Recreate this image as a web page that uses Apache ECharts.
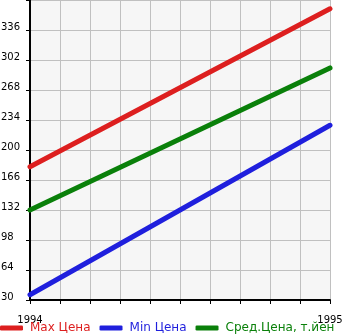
<!DOCTYPE html>
<html><head><meta charset="utf-8">
<script src="https://cdn.jsdelivr.net/npm/echarts@6/dist/echarts.min.js"></script>
<style>html,body{margin:0;padding:0;background:#fff}#c{width:345px;height:335px}</style>
</head><body><div id="c"></div>
<script>
const years = [1994, 1995];
const maxPrice = [181, 360];
const minPrice = [36, 228];
const avgPrice = [132, 293];
const seriesNames = ['Max Цена', 'Min Цена', 'Сред.Цена, т.йен'];
const colors = ['#dd1f1f', '#1f1fdd', '#0a800a'];

const chart = echarts.init(document.getElementById('c'));
const font = 'DejaVu Sans';
chart.setOption({
  animation: false,
  backgroundColor: '#ffffff',
  grid: {left: 30, right: 15, top: 0, bottom: 35, outerBoundsMode: 'none', show: true, backgroundColor: '#f6f6f6', borderWidth: 0},
  legend: {
    top: 322, left: 0, padding: 0, itemGap: 9, itemWidth: 23, itemHeight: 5, icon: 'roundRect',
    textStyle: {fontFamily: font, fontSize: 12, padding: [0, 0, 0, 2]},
    data: seriesNames.map((n, i) => ({name: n, textStyle: {color: colors[i]}}))
  },
  xAxis: {
    type: 'value', min: 1994, max: 1995, interval: 0.1,
    axisLine: {show: true, lineStyle: {color: '#000', width: 2}},
    axisTick: {show: true, length: 4, lineStyle: {color: '#000'}},
    splitLine: {show: true, lineStyle: {color: '#c0c0c0', width: 1}},
    axisLabel: {fontFamily: font, fontSize: 10, color: '#000', margin: 15,
      formatter: v => Math.abs(v - Math.round(v)) < 1e-6 ? String(Math.round(v)) : ''}
  },
  yAxis: {
    type: 'value', min: 30, max: 370, interval: 34,
    axisLine: {show: true, lineStyle: {color: '#000', width: 2}},
    axisTick: {show: true, length: 4, lineStyle: {color: '#000'}},
    splitLine: {show: true, lineStyle: {color: '#c0c0c0', width: 1}},
    axisLabel: {fontFamily: font, fontSize: 10, color: '#000', align: 'left', margin: 29, verticalAlign: 'bottom',
      lineHeight: 6,
      formatter: v => v >= 370 ? '' : String(v)}
  },
  series: [maxPrice, minPrice, avgPrice].map((d, i) => ({
    name: seriesNames[i], type: 'line', symbol: 'none',
    data: years.map((y, j) => [y, d[j]]),
    lineStyle: {color: colors[i], width: 5, cap: 'round'},
    itemStyle: {color: colors[i]}
  }))
});
</script></body></html>
